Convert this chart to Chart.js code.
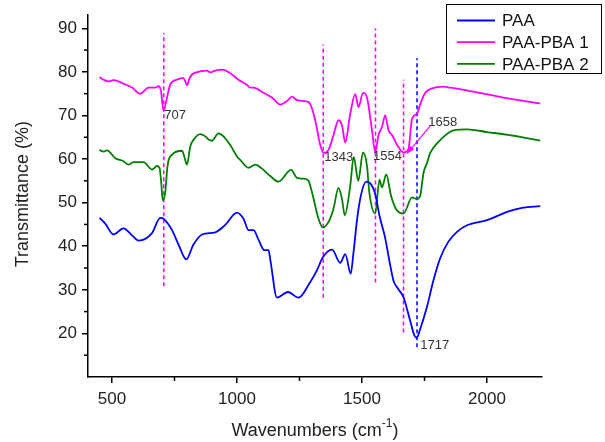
<!DOCTYPE html>
<html>
<head>
<meta charset="utf-8">
<title>FTIR spectra</title>
<script src="https://cdn.jsdelivr.net/npm/chart.js@4.4.1/dist/chart.umd.min.js"></script>
<style>
    body { margin: 0; background: #fff; }
    canvas { display: block; }
</style>
</head>
<body>
<canvas id="ftirChart" width="605" height="442"></canvas>
<script>
// Spectra: wavenumber (cm-1) and transmittance (%)
const wnPAA = [450, 473, 506, 546, 580, 606, 660, 693, 706, 740, 766, 797, 826, 860, 913, 953, 1000, 1026, 1046, 1066, 1086, 1109, 1126, 1133, 1160, 1204, 1246, 1290, 1320, 1343, 1380, 1413, 1433, 1455, 1465, 1480, 1495, 1517, 1535, 1553, 1570, 1593, 1610, 1626, 1645, 1666, 1690, 1710, 1720, 1730, 1760, 1785, 1813, 1845, 1880, 1920, 2000, 2040, 2080, 2140, 2213];
const tPAA = [46.5, 45.2, 42.7, 44.1, 42.5, 41.3, 43, 46.5, 46.3, 43.7, 40.4, 37, 40.4, 42.7, 43.2, 44.9, 47.7, 46.3, 43.7, 43.7, 41.5, 39.1, 39.1, 37, 28.2, 29.5, 28.2, 31.5, 34.5, 37.4, 39.2, 36.2, 38.2, 33.7, 38, 46, 51.5, 54.8, 54.3, 52, 47, 41.8, 36.5, 32.1, 30.2, 28.3, 23.5, 19.5, 19, 20.5, 26.1, 32, 37.3, 41, 43.3, 44.8, 46, 46.9, 47.9, 48.8, 49.2];

const wnPBA1 = [450, 466, 486, 506, 546, 580, 613, 646, 673, 686, 696, 706, 717, 733, 760, 784, 792, 800, 810, 820, 853, 880, 893, 913, 940, 973, 1006, 1040, 1053, 1066, 1106, 1140, 1173, 1200, 1220, 1240, 1266, 1280, 1293, 1313, 1333, 1346, 1366, 1386, 1406, 1420, 1433, 1453, 1473, 1486, 1504, 1520, 1540, 1553, 1566, 1580, 1593, 1606, 1620, 1640, 1666, 1686, 1700, 1720, 1733, 1753, 1780, 1826, 1853, 1933, 2066, 2213];
const tPBA1 = [78.8, 78.2, 77.8, 78.1, 77.3, 76.4, 75, 76.4, 76.4, 76.7, 75.6, 71, 73.3, 77.1, 78.2, 78.6, 78, 76.9, 78.5, 79.4, 80.1, 80.3, 79.9, 80.3, 80.5, 79.7, 78.2, 77, 76.4, 76.4, 75.2, 74.1, 72.5, 73.3, 74.3, 73.5, 73.3, 73.2, 72.6, 68.9, 63.2, 61.4, 62.1, 65.5, 68.9, 67.7, 63.8, 70.4, 74.9, 71.9, 75.2, 74.1, 66.6, 61.5, 65.5, 67.4, 70, 66.6, 65.5, 63.3, 61.5, 62.3, 69.2, 70.4, 72.6, 75.2, 76.2, 76.6, 76.4, 75.6, 74.1, 72.7];

const wnPBA2 = [450, 466, 480, 513, 546, 566, 586, 626, 660, 680, 690, 697, 703, 713, 722, 740, 780, 789, 800, 813, 826, 853, 873, 886, 900, 926, 946, 973, 1000, 1013, 1046, 1073, 1100, 1133, 1166, 1216, 1240, 1266, 1286, 1300, 1326, 1343, 1370, 1386, 1406, 1420, 1431, 1453, 1467, 1485, 1504, 1520, 1530, 1553, 1570, 1580, 1597, 1616, 1640, 1666, 1700, 1720, 1733, 1746, 1760, 1773, 1800, 1866, 1920, 2000, 2133, 2213];
const tPBA2 = [62.1, 61.7, 62, 60.2, 59.5, 58.7, 59.3, 59.3, 57.6, 58.4, 58, 54.6, 50.5, 52.4, 58.4, 61, 61.9, 60.6, 58.7, 62.9, 64.4, 65.7, 65.2, 64.5, 64.2, 65.9, 65.2, 63.2, 60.6, 59.8, 58, 58.7, 57.8, 56.1, 54.8, 57.5, 55.7, 55.5, 55, 52.4, 46.3, 44.3, 46, 48.6, 53.4, 50.8, 47.1, 53.9, 60.5, 55, 61.5, 58.4, 52, 47.5, 55.3, 53.5, 56.5, 51.6, 48.2, 47.5, 51.2, 50.8, 51.6, 56.8, 59.1, 61.4, 63.6, 66.6, 66.8, 66.2, 65.1, 64.2];

const seriesNames = ['PAA', 'PAA-PBA 1', 'PAA-PBA 2'];

// Peak markers (dashed verticals) and their labels
const markerWn = [707, 1345, 1554, 1666, 1720];
const markerLow = [30.8, 28.2, 31.7, 20.2, 16.8];
const markerHigh = [88.9, 86.3, 90, 78.2, 83.1];
const peakLabels = ['707', '1343', '1554', '1658', '1717'];
const labelWn = [709, 1349, 1544, 1765, 1733];
const labelT = [70, 60.4, 60.5, 68.5, 17.3];

// Tick values
const xTicks = [500, 1000, 1500, 2000];
const xMinor = [750, 1250, 1750];
const yTicks = [20, 30, 40, 50, 60, 70, 80, 90];
const yMinor = [15, 25, 35, 45, 55, 65, 75, 85];

const FONT = "'Liberation Sans', Arial, sans-serif";
const BLUE = '#0000ff';
const MAGENTA = '#ff00ff';
const GREEN = '#008000';
const markerColors = [MAGENTA, MAGENTA, MAGENTA, MAGENTA, BLUE];

function toPoints(xs, ys) {
    return xs.map((v, i) => ({ x: v, y: ys[i] }));
}

const spectrumStyle = {
    borderWidth: 1.8,
    pointRadius: 0,
    fill: false,
    cubicInterpolationMode: 'monotone'
};

const datasets = [
    Object.assign({ label: seriesNames[0], data: toPoints(wnPAA, tPAA), borderColor: BLUE }, spectrumStyle),
    Object.assign({ label: seriesNames[1], data: toPoints(wnPBA1, tPBA1), borderColor: MAGENTA }, spectrumStyle),
    Object.assign({ label: seriesNames[2], data: toPoints(wnPBA2, tPBA2), borderColor: GREEN }, spectrumStyle)
];

markerWn.forEach((w, i) => {
    datasets.push({
        label: 'marker' + i,
        data: [{ x: w, y: markerLow[i] }, { x: w, y: markerHigh[i] }],
        borderColor: markerColors[i],
        borderWidth: 1.5,
        borderDash: [4, 3],
        pointRadius: 0,
        fill: false
    });
});

// Minor ticks, titles, peak labels, arrow and boxed legend
const extras = {
    id: 'extras',
    afterDraw(chart) {
        const ctx = chart.ctx;
        const xs = chart.scales.x;
        const ys = chart.scales.y;
        const area = chart.chartArea;
        ctx.save();

        ctx.strokeStyle = '#000';
        ctx.lineWidth = 1.5;
        xMinor.forEach(v => {
            const px = xs.getPixelForValue(v);
            ctx.beginPath();
            ctx.moveTo(px, area.bottom);
            ctx.lineTo(px, area.bottom + 4);
            ctx.stroke();
        });
        yMinor.forEach(v => {
            const py = ys.getPixelForValue(v);
            ctx.beginPath();
            ctx.moveTo(area.left, py);
            ctx.lineTo(area.left - 4, py);
            ctx.stroke();
        });

        // peak labels
        ctx.fillStyle = '#333';
        ctx.font = '13px ' + FONT;
        ctx.textAlign = 'left';
        ctx.textBaseline = 'middle';
        peakLabels.forEach((t, i) => {
            ctx.fillText(t, xs.getPixelForValue(labelWn[i]), ys.getPixelForValue(labelT[i]));
        });

        // arrow from the 1658 label to the minimum
        const ax0 = xs.getPixelForValue(1773), ay0 = ys.getPixelForValue(67.6);
        const ax1 = xs.getPixelForValue(1681), ay1 = ys.getPixelForValue(61.3);
        ctx.strokeStyle = MAGENTA;
        ctx.fillStyle = MAGENTA;
        ctx.lineWidth = 1.2;
        ctx.beginPath();
        ctx.moveTo(ax0, ay0);
        ctx.lineTo(ax1, ay1);
        ctx.stroke();
        const ang = Math.atan2(ay1 - ay0, ax1 - ax0);
        ctx.beginPath();
        ctx.moveTo(ax1, ay1);
        ctx.lineTo(ax1 - 8 * Math.cos(ang - 0.35), ay1 - 8 * Math.sin(ang - 0.35));
        ctx.lineTo(ax1 - 8 * Math.cos(ang + 0.35), ay1 - 8 * Math.sin(ang + 0.35));
        ctx.closePath();
        ctx.fill();

        // axis titles
        ctx.fillStyle = '#222';
        ctx.font = '18px ' + FONT;
        ctx.textAlign = 'center';
        ctx.textBaseline = 'middle';
        ctx.save();
        ctx.translate(23, (area.top + area.bottom) / 2 - 2);
        ctx.rotate(-Math.PI / 2);
        ctx.fillText('Transmittance (%)', 0, 0);
        ctx.restore();

        const main = 'Wavenumbers (cm';
        const sup = '-1';
        ctx.font = '18px ' + FONT;
        const wMain = ctx.measureText(main).width;
        const wClose = ctx.measureText(')').width;
        ctx.font = '12px ' + FONT;
        const wSup = ctx.measureText(sup).width;
        let tx = (area.left + area.right) / 2 - (wMain + wSup + wClose) / 2;
        const ty = 431;
        ctx.textAlign = 'left';
        ctx.font = '18px ' + FONT;
        ctx.fillText(main, tx, ty);
        tx += wMain;
        ctx.font = '12px ' + FONT;
        ctx.fillText(sup, tx, ty - 7);
        tx += wSup;
        ctx.font = '18px ' + FONT;
        ctx.fillText(')', tx, ty);

        // legend box
        ctx.strokeStyle = '#000';
        ctx.lineWidth = 1;
        ctx.strokeRect(446.5, 4.5, 155, 69);
        const colors = [BLUE, MAGENTA, GREEN];
        ctx.font = '17px ' + FONT;
        ctx.textBaseline = 'middle';
        seriesNames.forEach((n, i) => {
            const ly = 20.5 + i * 21.7;
            ctx.strokeStyle = colors[i];
            ctx.lineWidth = 1.8;
            ctx.beginPath();
            ctx.moveTo(457, ly);
            ctx.lineTo(495, ly);
            ctx.stroke();
            ctx.fillStyle = '#111';
            ctx.fillText(n, 502, ly + 1);
        });

        ctx.restore();
    }
};

const ctx = document.getElementById('ftirChart').getContext('2d');
const ftirChart = new Chart(ctx, {
    type: 'line',
    data: { datasets: datasets },
    options: {
        responsive: false,
        animation: false,
        layout: { padding: { left: 0, right: 63, top: 9, bottom: 0 } },
        plugins: {
            legend: { display: false },
            tooltip: { enabled: false }
        },
        scales: {
            x: {
                type: 'linear',
                min: 404,
                max: 2220,
                afterFit: scale => { scale.height = 65; },
                afterBuildTicks: scale => { scale.ticks = xTicks.map(v => ({ value: v })); },
                grid: { drawOnChartArea: false, drawTicks: true, tickLength: 6, color: '#000', lineWidth: 1.5 },
                border: { display: true, color: '#000', width: 1.5 },
                ticks: { color: '#222', font: { family: FONT, size: 17 }, padding: 6, maxRotation: 0, callback: v => String(v) }
            },
            y: {
                type: 'linear',
                min: 10,
                max: 93,
                afterFit: scale => { scale.width = 88; },
                afterBuildTicks: scale => { scale.ticks = yTicks.map(v => ({ value: v })); },
                grid: { drawOnChartArea: false, drawTicks: true, tickLength: 6, color: '#000', lineWidth: 1.5 },
                border: { display: true, color: '#000', width: 1.5 },
                ticks: { color: '#222', font: { family: FONT, size: 17 }, padding: 5, callback: v => String(v) }
            }
        }
    },
    plugins: [extras]
});
</script>
</body>
</html>
